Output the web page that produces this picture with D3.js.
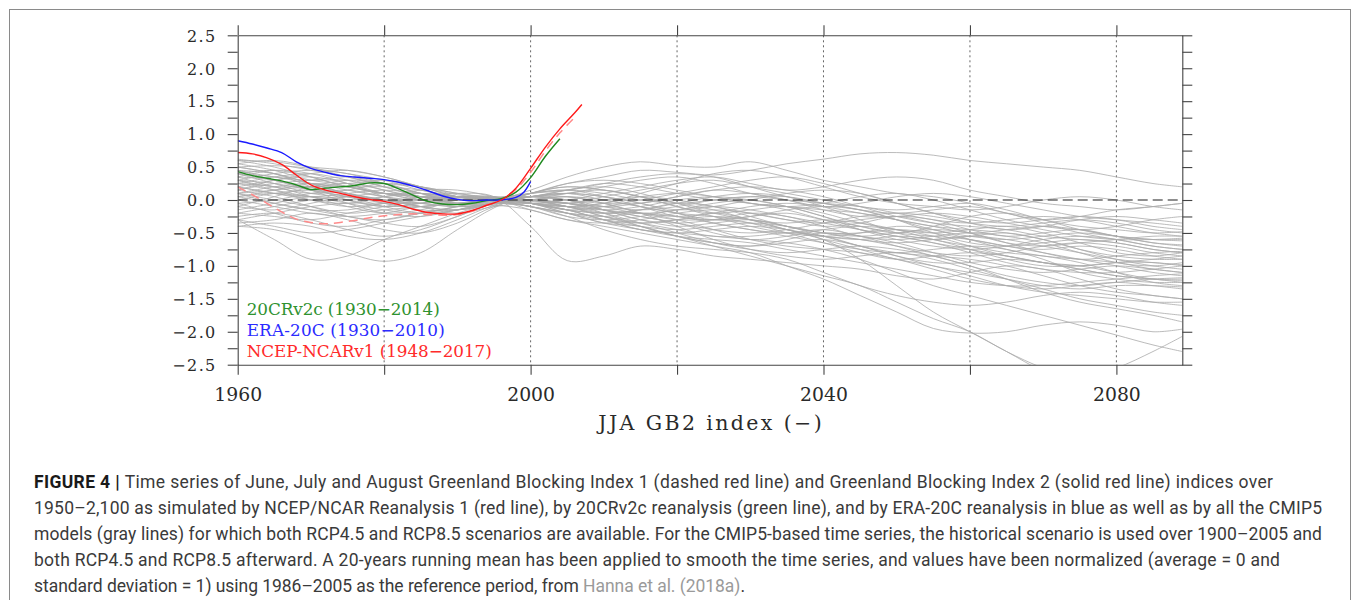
<!DOCTYPE html>
<html>
<head>
<meta charset="utf-8">
<script src="https://cdn.jsdelivr.net/npm/d3@7"></script>
<style>
  body { margin: 0; background: #fff; }
  svg { display: block; }
</style>
</head>
<body>
<div id="chart"></div>
<script>
// ---------------- data ----------------
// knot years for the CMIP5 running-mean curves
var cmipYears = [1960, 1965, 1970, 1975, 1980, 1985, 1990, 1995, 2000, 2005, 2010, 2015, 2020, 2025,
  2030, 2035, 2040, 2045, 2050, 2055, 2060, 2065, 2070, 2075, 2080, 2085, 2089];

// one row per CMIP5 model (gray lines)
var cmipModels = [
  [0.62,0.55,0.45,0.35,0.20,0.05,-0.05,0.02,0.10,0.25,0.35,0.45,0.42,0.38,0.45,0.55,0.62,0.70,0.72,0.68,0.60,0.55,0.50,0.45,0.35,0.25,0.20],
  [0.50,0.52,0.48,0.40,0.30,0.15,0.05,0.00,0.15,0.35,0.50,0.58,0.52,0.50,0.58,0.45,0.30,0.20,0.10,0.05,-0.05,-0.20,-0.30,-0.25,-0.15,-0.10,-0.05],
  [0.30,0.25,0.15,0.05,-0.10,-0.20,-0.15,0.00,-0.05,-0.20,-0.30,-0.35,-0.30,-0.20,-0.30,-0.45,-0.60,-0.90,-1.30,-1.70,-2.00,-2.30,-2.60,-2.80,-2.90,-2.90,-2.90],
  [0.10,0.00,-0.10,-0.20,-0.15,-0.10,-0.05,0.00,-0.15,-0.30,-0.40,-0.50,-0.60,-0.70,-0.80,-1.00,-1.20,-1.45,-1.70,-1.95,-2.02,-2.00,-1.90,-1.85,-1.90,-2.00,-1.96],
  [0.40,0.45,0.35,0.20,0.10,0.05,0.02,-0.02,-0.10,-0.20,-0.35,-0.40,-0.55,-0.70,-0.85,-1.00,-1.15,-1.30,-1.55,-1.80,-2.00,-2.30,-2.55,-2.70,-2.55,-2.30,-2.07],
  [-0.20,-0.25,-0.30,-0.20,-0.10,0.00,0.05,0.02,-0.05,-0.15,-0.30,-0.45,-0.50,-0.55,-0.60,-0.65,-0.75,-0.90,-1.10,-1.30,-1.45,-1.60,-1.75,-1.90,-2.05,-2.20,-2.30],
  [-0.30,-0.60,-0.90,-0.85,-0.60,-0.40,-0.20,-0.05,0.05,0.10,0.00,-0.10,-0.20,-0.30,-0.25,-0.20,-0.30,-0.40,-0.50,-0.55,-0.60,-0.70,-0.80,-0.90,-1.00,-1.10,-1.15],
  [-0.40,-0.45,-0.60,-0.80,-0.93,-0.80,-0.45,-0.12,0.10,0.20,0.15,0.05,-0.05,-0.15,-0.30,-0.45,-0.55,-0.60,-0.70,-0.80,-0.85,-0.80,-0.70,-0.65,-0.70,-0.80,-0.85],
  [0.20,0.10,0.00,-0.10,-0.05,0.05,0.10,0.05,-0.40,-0.92,-0.85,-0.70,-0.75,-0.85,-0.90,-0.95,-1.00,-1.05,-1.15,-1.20,-1.10,-1.00,-1.05,-1.20,-1.35,-1.45,-1.50],
  [0.55,0.45,0.30,0.25,0.30,0.20,0.05,0.00,0.05,0.10,0.20,0.30,0.35,0.25,0.10,0.00,-0.10,-0.05,0.05,0.10,0.05,-0.05,-0.15,-0.25,-0.30,-0.35,-0.40],
  [0.45,0.40,0.25,0.10,0.00,-0.05,-0.10,-0.05,0.00,-0.10,-0.20,-0.15,-0.05,0.05,0.10,0.05,-0.10,-0.30,-0.50,-0.60,-0.55,-0.50,-0.60,-0.75,-0.90,-1.00,-1.05],
  [0.35,0.20,0.10,0.15,0.25,0.20,0.10,0.03,-0.05,-0.15,-0.10,0.00,0.10,0.20,0.30,0.35,0.25,0.10,-0.05,-0.20,-0.35,-0.45,-0.40,-0.30,-0.25,-0.30,-0.35],
  [0.00,0.10,0.15,0.10,0.00,-0.10,-0.15,-0.05,0.10,0.20,0.15,0.05,-0.10,-0.25,-0.40,-0.50,-0.55,-0.50,-0.40,-0.45,-0.60,-0.75,-0.85,-0.90,-0.95,-1.05,-1.10],
  [-0.35,-0.30,-0.20,-0.30,-0.45,-0.50,-0.35,-0.10,0.05,0.00,-0.15,-0.30,-0.40,-0.35,-0.30,-0.40,-0.55,-0.70,-0.80,-0.85,-0.90,-1.00,-1.15,-1.30,-1.40,-1.45,-1.50],
  [0.25,0.35,0.40,0.30,0.15,0.05,0.00,0.00,-0.05,-0.10,-0.05,0.10,0.25,0.40,0.45,0.35,0.20,0.05,-0.05,-0.10,-0.15,-0.10,0.00,0.05,0.00,-0.10,-0.15],
  [0.15,0.05,-0.10,-0.25,-0.30,-0.20,-0.10,-0.03,-0.10,-0.25,-0.45,-0.60,-0.70,-0.75,-0.80,-0.90,-1.10,-1.30,-1.45,-1.55,-1.60,-1.55,-1.45,-1.40,-1.45,-1.55,-1.60],
  [0.05,-0.05,-0.15,-0.25,-0.35,-0.40,-0.25,-0.05,0.00,-0.05,-0.15,-0.25,-0.35,-0.50,-0.60,-0.55,-0.45,-0.40,-0.45,-0.55,-0.70,-0.85,-0.95,-1.00,-0.95,-0.90,-0.85],
  [0.40,0.30,0.20,0.25,0.15,0.00,-0.10,-0.08,-0.15,-0.30,-0.35,-0.30,-0.20,-0.15,-0.20,-0.30,-0.40,-0.35,-0.25,-0.30,-0.45,-0.55,-0.50,-0.45,-0.55,-0.65,-0.70],
  [-0.10,-0.15,-0.05,0.05,0.10,0.05,0.00,0.02,0.05,0.00,-0.10,-0.20,-0.15,-0.05,0.00,-0.10,-0.25,-0.40,-0.50,-0.40,-0.25,-0.20,-0.30,-0.45,-0.55,-0.60,-0.62],
  [0.60,0.50,0.35,0.20,0.10,0.10,0.05,0.02,0.05,0.15,0.25,0.20,0.10,0.00,-0.05,-0.15,-0.30,-0.45,-0.55,-0.65,-0.75,-0.85,-0.95,-1.05,-1.15,-1.20,-1.25],
  [0.20,0.30,0.35,0.25,0.05,-0.10,-0.20,-0.10,-0.05,-0.10,-0.20,-0.35,-0.50,-0.65,-0.75,-0.80,-0.75,-0.70,-0.75,-0.85,-1.00,-1.15,-1.25,-1.30,-1.25,-1.20,-1.18],
  [-0.25,-0.20,-0.30,-0.45,-0.55,-0.45,-0.25,-0.05,0.00,-0.05,0.00,0.05,0.00,-0.10,-0.20,-0.30,-0.35,-0.30,-0.25,-0.35,-0.50,-0.65,-0.70,-0.65,-0.60,-0.55,-0.55],
  [0.10,0.20,0.25,0.15,0.05,0.00,0.05,0.00,-0.10,-0.20,-0.25,-0.20,-0.25,-0.35,-0.45,-0.50,-0.45,-0.55,-0.70,-0.85,-1.00,-1.20,-1.40,-1.55,-1.65,-1.75,-1.85],
  [0.50,0.40,0.20,0.00,-0.10,-0.05,0.05,0.05,0.00,-0.05,0.05,0.15,0.25,0.30,0.20,0.10,0.00,-0.10,-0.15,-0.10,-0.05,-0.15,-0.30,-0.40,-0.45,-0.50,-0.48],
  [0.30,0.15,0.00,-0.05,0.05,0.15,0.15,0.05,-0.05,-0.15,-0.30,-0.40,-0.45,-0.40,-0.35,-0.40,-0.50,-0.60,-0.65,-0.60,-0.55,-0.60,-0.70,-0.80,-0.90,-0.95,-0.98],
  [-0.05,0.00,0.10,0.15,0.05,-0.05,-0.10,-0.05,0.10,0.25,0.30,0.25,0.15,0.05,-0.05,-0.10,-0.05,0.05,0.10,0.00,-0.15,-0.30,-0.40,-0.45,-0.40,-0.30,-0.25],
  [0.35,0.30,0.15,-0.05,-0.20,-0.25,-0.15,-0.05,-0.02,-0.10,-0.25,-0.40,-0.55,-0.65,-0.70,-0.65,-0.60,-0.70,-0.85,-1.00,-1.10,-1.20,-1.30,-1.35,-1.30,-1.30,-1.32],
  [0.15,0.25,0.30,0.35,0.25,0.10,0.00,0.03,0.00,-0.05,-0.10,-0.05,0.05,0.15,0.20,0.15,0.05,-0.10,-0.25,-0.35,-0.40,-0.45,-0.55,-0.60,-0.65,-0.75,-0.80],
  [-0.40,-0.35,-0.40,-0.55,-0.60,-0.50,-0.30,-0.08,0.05,0.10,0.05,-0.05,-0.20,-0.35,-0.45,-0.55,-0.65,-0.75,-0.80,-0.75,-0.70,-0.75,-0.90,-1.10,-1.20,-1.25,-1.25],
  [0.05,0.10,0.05,-0.05,-0.15,-0.20,-0.10,0.02,0.10,0.15,0.05,-0.10,-0.25,-0.30,-0.25,-0.15,-0.10,-0.15,-0.30,-0.50,-0.65,-0.70,-0.65,-0.60,-0.65,-0.75,-0.80],
  [0.45,0.35,0.30,0.30,0.20,0.05,-0.05,-0.05,-0.05,-0.10,-0.15,-0.25,-0.35,-0.45,-0.50,-0.45,-0.35,-0.25,-0.20,-0.25,-0.35,-0.40,-0.35,-0.30,-0.35,-0.45,-0.50],
  [0.25,0.20,0.05,-0.10,-0.20,-0.15,0.00,0.04,0.00,-0.10,-0.15,-0.10,0.00,0.05,0.00,-0.10,-0.25,-0.45,-0.60,-0.70,-0.75,-0.70,-0.60,-0.55,-0.60,-0.70,-0.75],
  [-0.15,-0.05,0.05,0.00,-0.10,-0.05,0.05,0.05,-0.05,-0.20,-0.35,-0.45,-0.55,-0.60,-0.65,-0.75,-0.85,-0.95,-1.05,-1.15,-1.25,-1.30,-1.30,-1.25,-1.20,-1.15,-1.12],
  [0.55,0.60,0.50,0.35,0.25,0.20,0.10,0.02,-0.05,-0.10,-0.05,0.05,0.10,0.05,-0.05,-0.10,-0.15,-0.20,-0.30,-0.40,-0.50,-0.45,-0.40,-0.45,-0.55,-0.65,-0.68],
  [0.20,0.10,0.05,0.10,0.15,0.10,0.05,0.00,-0.05,0.00,0.10,0.20,0.30,0.35,0.25,0.15,0.20,0.30,0.35,0.30,0.15,0.05,-0.05,-0.10,-0.15,-0.10,-0.05],
  [0.00,-0.10,-0.20,-0.25,-0.20,-0.10,-0.05,-0.03,0.00,0.05,0.00,-0.10,-0.20,-0.25,-0.35,-0.50,-0.65,-0.80,-0.90,-0.85,-0.80,-0.85,-0.95,-1.00,-1.10,-1.20,-1.22],
  [0.40,0.25,0.10,0.05,0.00,0.00,0.00,0.01,0.05,0.00,-0.15,-0.30,-0.35,-0.30,-0.20,-0.25,-0.40,-0.55,-0.60,-0.55,-0.50,-0.55,-0.65,-0.80,-0.95,-1.00,-0.95],
  [-0.30,-0.40,-0.50,-0.45,-0.35,-0.25,-0.15,-0.04,0.05,0.05,-0.05,-0.20,-0.40,-0.60,-0.75,-0.85,-0.90,-0.85,-0.80,-0.90,-1.05,-1.20,-1.35,-1.50,-1.60,-1.70,-1.75],
  [0.10,0.15,0.20,0.20,0.10,0.00,-0.05,0.00,0.00,-0.05,-0.10,-0.15,-0.10,0.00,0.05,0.00,-0.05,-0.10,-0.20,-0.30,-0.35,-0.30,-0.25,-0.30,-0.40,-0.50,-0.55],
  [0.30,0.40,0.45,0.40,0.25,0.10,0.05,0.00,-0.10,-0.25,-0.30,-0.25,-0.15,-0.10,-0.15,-0.25,-0.35,-0.45,-0.55,-0.65,-0.80,-0.95,-1.05,-1.10,-1.10,-1.05,-1.00],
  [-0.20,-0.10,0.00,0.05,0.00,-0.10,-0.15,-0.05,0.10,0.15,0.10,0.00,-0.05,0.00,0.05,0.05,-0.05,-0.15,-0.20,-0.15,-0.10,-0.20,-0.35,-0.50,-0.60,-0.70,-0.75],
  [0.50,0.40,0.25,0.10,0.00,-0.05,0.00,0.03,0.00,-0.05,-0.15,-0.20,-0.25,-0.20,-0.10,-0.05,-0.10,-0.20,-0.30,-0.40,-0.45,-0.50,-0.60,-0.75,-0.85,-0.90,-0.90],
  [0.60,0.58,0.50,0.45,0.35,0.20,0.08,0.02,-0.05,-0.15,-0.20,-0.15,-0.05,-0.10,-0.25,-0.40,-0.50,-0.55,-0.50,-0.45,-0.50,-0.65,-0.80,-0.90,-0.85,-0.80,-0.78],
  [0.15,0.30,0.40,0.45,0.35,0.20,0.05,-0.02,0.05,0.15,0.20,0.10,-0.05,-0.20,-0.30,-0.35,-0.30,-0.35,-0.45,-0.60,-0.70,-0.80,-0.85,-0.95,-1.10,-1.25,-1.30],
  [-0.05,-0.20,-0.35,-0.40,-0.30,-0.20,-0.10,0.00,0.00,-0.05,-0.20,-0.40,-0.55,-0.65,-0.70,-0.60,-0.50,-0.55,-0.65,-0.80,-0.95,-1.05,-1.10,-1.05,-1.00,-1.05,-1.10],
  [0.35,0.45,0.40,0.25,0.10,0.00,0.00,0.03,0.10,0.15,0.25,0.35,0.40,0.35,0.20,0.05,-0.05,-0.15,-0.30,-0.45,-0.55,-0.60,-0.55,-0.50,-0.55,-0.60,-0.60],
  [0.25,0.15,0.05,0.00,0.05,0.10,0.05,-0.02,-0.10,-0.20,-0.25,-0.35,-0.45,-0.55,-0.55,-0.50,-0.55,-0.70,-0.85,-0.95,-0.95,-0.90,-0.95,-1.05,-1.15,-1.20,-1.20],
  [-0.10,0.05,0.20,0.30,0.25,0.10,-0.05,-0.06,0.00,0.10,0.15,0.05,-0.10,-0.20,-0.15,-0.10,-0.20,-0.35,-0.45,-0.50,-0.45,-0.40,-0.50,-0.65,-0.80,-0.85,-0.80],
  [0.45,0.30,0.15,0.05,-0.05,-0.15,-0.15,-0.06,0.00,0.05,-0.05,-0.20,-0.30,-0.30,-0.35,-0.45,-0.60,-0.75,-0.90,-1.00,-1.15,-1.30,-1.40,-1.45,-1.50,-1.55,-1.55],
  [0.05,0.15,0.25,0.20,0.10,0.05,0.05,0.04,0.05,0.00,-0.05,-0.05,0.05,0.15,0.10,0.00,-0.15,-0.25,-0.25,-0.20,-0.25,-0.35,-0.45,-0.55,-0.60,-0.60,-0.58],
  [0.30,0.20,0.20,0.10,-0.05,-0.10,-0.05,0.00,-0.05,-0.15,-0.30,-0.45,-0.50,-0.45,-0.40,-0.45,-0.55,-0.60,-0.55,-0.60,-0.75,-0.90,-1.00,-1.00,-0.95,-0.95,-1.00],
  [-0.30,-0.20,-0.10,-0.05,-0.05,-0.05,0.00,0.02,0.00,-0.10,-0.25,-0.35,-0.30,-0.25,-0.30,-0.40,-0.50,-0.50,-0.45,-0.50,-0.60,-0.70,-0.75,-0.70,-0.75,-0.85,-0.90],
  [0.40,0.35,0.25,0.20,0.20,0.15,0.05,0.00,0.05,0.10,0.05,-0.05,-0.15,-0.10,0.00,0.10,0.15,0.10,-0.05,-0.20,-0.30,-0.35,-0.30,-0.25,-0.30,-0.40,-0.45],
  [0.10,-0.05,-0.15,-0.15,-0.05,0.05,0.05,0.02,-0.05,-0.15,-0.20,-0.20,-0.30,-0.45,-0.60,-0.70,-0.75,-0.80,-0.90,-1.05,-1.20,-1.30,-1.35,-1.30,-1.25,-1.30,-1.35]
];

// reanalyses (20-yr running means)
var ncepYears = [1960, 1962, 1964, 1966, 1968, 1970, 1972, 1974, 1976, 1978, 1980, 1982, 1984,
  1986, 1988, 1990, 1992, 1994, 1996, 1998, 2000, 2002, 2004, 2006, 2007];
var ncepGBI2 = [0.72, 0.70, 0.64, 0.54, 0.38, 0.23, 0.15, 0.10, 0.05, 0.01, -0.02, -0.07, -0.14,
  -0.19, -0.21, -0.21, -0.16, -0.08, 0.00, 0.18, 0.48, 0.80, 1.08, 1.32, 1.45];

var gbi1Years = [1960, 1962, 1964, 1966, 1968, 1970, 1972, 1974, 1976, 1978, 1980, 1982, 1984,
  1986, 1988, 1990, 1992, 1994, 1996, 1998, 2000, 2002, 2004, 2006];
var ncepGBI1 = [0.20, 0.08, -0.05, -0.18, -0.29, -0.34, -0.36, -0.34, -0.31, -0.27, -0.24, -0.22, -0.21,
  -0.22, -0.23, -0.22, -0.17, -0.08, 0.01, 0.16, 0.42, 0.74, 1.02, 1.25];

var cr20Years = [1960, 1962, 1964, 1966, 1968, 1970, 1972, 1974, 1976, 1978, 1980, 1982, 1984,
  1986, 1988, 1990, 1992, 1994, 1996, 1998, 2000, 2002, 2004];
var cr20Values = [0.43, 0.37, 0.33, 0.29, 0.23, 0.16, 0.18, 0.20, 0.22, 0.26, 0.25, 0.17, 0.07,
  -0.02, -0.06, -0.07, -0.05, -0.01, 0.02, 0.12, 0.34, 0.66, 0.93];

var eraYears = [1960, 1962, 1964, 1966, 1968, 1970, 1972, 1974, 1976, 1978, 1980, 1982, 1984,
  1986, 1988, 1990, 1992, 1994, 1996, 1998, 1999, 2000];
var eraValues = [0.90, 0.85, 0.79, 0.72, 0.58, 0.48, 0.42, 0.37, 0.35, 0.33, 0.31, 0.27, 0.21,
  0.14, 0.06, 0.01, -0.01, 0.00, 0.00, 0.04, 0.11, 0.28];

// axes
var yMajorTicks = [-2.5, -2, -1.5, -1, -0.5, 0, 0.5, 1, 1.5, 2, 2.5];
var yMinorTicks = [-2.25, -1.75, -1.25, -0.75, -0.25, 0.25, 0.75, 1.25, 1.75, 2.25];
var xTicks = [1960, 1980, 2000, 2020, 2040, 2060, 2080];
var xLabelled = [1960, 2000, 2040, 2080];

var legendNames = ["20CRv2c (1930\u22122014)", "ERA-20C (1930\u22122010)", "NCEP-NCARv1 (1948\u22122017)"];
var legendColors = ["#2f922f", "#2b2bff", "#ff2b2b"];

// ---------------- layout ----------------
var svgWidth = 1355;
var svgHeight = 600;

var margin = {
  top: 35.3,
  right: 172.7,
  bottom: 235.3,
  left: 237.7
};

var width = svgWidth - margin.left - margin.right;
var height = svgHeight - margin.top - margin.bottom;

var serif = "'DejaVu Serif', 'Liberation Serif', serif";
var sans = "Roboto, 'Liberation Sans', sans-serif";

var svg = d3.select("#chart")
  .append("svg")
  .attr("width", svgWidth)
  .attr("height", svgHeight);

// light frame around the whole figure (bottom edge runs off the page)
svg.append("rect")
  .attr("x", 9.5)
  .attr("y", 9.5)
  .attr("width", 1341)
  .attr("height", 640)
  .attr("fill", "none")
  .attr("stroke", "#8a8a8a")
  .attr("stroke-width", 1);

var chartGroup = svg.append("g")
  .attr("transform", `translate(${margin.left}, ${margin.top})`);

var xScale = d3.scaleLinear().domain([1960, 2089]).range([0, width]);
var yScale = d3.scaleLinear().domain([-2.5, 2.5]).range([height, 0]);

chartGroup.append("clipPath")
  .attr("id", "plot-clip")
  .append("rect")
  .attr("width", width)
  .attr("height", height);

// dotted vertical grid lines
chartGroup.selectAll(".grid")
  .data(xTicks.slice(1))
  .enter()
  .append("line")
  .attr("class", "grid")
  .attr("x1", d => xScale(d))
  .attr("x2", d => xScale(d))
  .attr("y1", 0)
  .attr("y2", height)
  .attr("stroke", "#555")
  .attr("stroke-width", 0.9)
  .attr("stroke-dasharray", "2,3");

var plotArea = chartGroup.append("g").attr("clip-path", "url(#plot-clip)");

// CMIP5 models
var cmipLine = d3.line()
  .x((d, i) => xScale(cmipYears[i]))
  .y(d => yScale(d))
  .curve(d3.curveCatmullRom.alpha(0.5));

plotArea.selectAll(".model")
  .data(cmipModels)
  .enter()
  .append("path")
  .attr("class", "model")
  .attr("d", cmipLine)
  .attr("fill", "none")
  .attr("stroke", "#ababab")
  .attr("stroke-opacity", 0.85)
  .attr("stroke-width", 0.95);

// zero reference line
plotArea.append("line")
  .attr("x1", 0)
  .attr("x2", width)
  .attr("y1", yScale(0))
  .attr("y2", yScale(0))
  .attr("stroke", "#1e1e1e")
  .attr("stroke-width", 1.2)
  .attr("stroke-dasharray", "10,5");

function seriesLine(years) {
  return d3.line()
    .x((d, i) => xScale(years[i]))
    .y(d => yScale(d))
    .curve(d3.curveCatmullRom.alpha(0.5));
}

// GBI1 (dashed, pale red)
plotArea.append("path")
  .attr("d", seriesLine(gbi1Years)(ncepGBI1))
  .attr("fill", "none")
  .attr("stroke", "#ff8a8a")
  .attr("stroke-width", 1.5)
  .attr("stroke-dasharray", "9,6");

plotArea.append("path")
  .attr("d", seriesLine(cr20Years)(cr20Values))
  .attr("fill", "none")
  .attr("stroke", "#1f8a1f")
  .attr("stroke-width", 1.4);

plotArea.append("path")
  .attr("d", seriesLine(eraYears)(eraValues))
  .attr("fill", "none")
  .attr("stroke", "#1a1aff")
  .attr("stroke-width", 1.4);

plotArea.append("path")
  .attr("d", seriesLine(ncepYears)(ncepGBI2))
  .attr("fill", "none")
  .attr("stroke", "#ff1a1a")
  .attr("stroke-width", 1.4);

// ---------------- axes ----------------
var yTicksAll = yMajorTicks.concat(yMinorTicks);
var fmtY = d => (d < 0 ? "\u2212" : "") + Math.abs(d).toFixed(1);

var leftAxis = d3.axisLeft(yScale)
  .tickValues(yTicksAll)
  .tickSize(10)
  .tickSizeOuter(0)
  .tickPadding(11)
  .tickFormat(d => yMajorTicks.indexOf(d) >= 0 ? fmtY(d) : "");

var rightAxis = d3.axisRight(yScale)
  .tickValues(yTicksAll)
  .tickSize(10)
  .tickSizeOuter(0)
  .tickFormat("");

var bottomAxis = d3.axisBottom(xScale)
  .tickValues(xTicks)
  .tickSize(10)
  .tickSizeOuter(0)
  .tickPadding(13)
  .tickFormat(d => xLabelled.indexOf(d) >= 0 ? d : "");

var topAxis = d3.axisTop(xScale)
  .tickValues(xTicks)
  .tickSize(10)
  .tickSizeOuter(0)
  .tickFormat("");

var yAxisL = chartGroup.append("g").call(leftAxis);
var yAxisR = chartGroup.append("g").attr("transform", `translate(${width}, 0)`).call(rightAxis);
var xAxisB = chartGroup.append("g").attr("transform", `translate(0, ${height})`).call(bottomAxis);
var xAxisT = chartGroup.append("g").call(topAxis);

chartGroup.selectAll(".domain, .tick line")
  .attr("stroke", "#444")
  .attr("stroke-width", 1.1);

yAxisL.selectAll("text")
  .style("font-family", serif)
  .style("font-size", "16px")
  .style("letter-spacing", "1.4px")
  .attr("fill", "#2a2a2a")
  .attr("dy", "0.36em");

xAxisB.selectAll("text")
  .style("font-family", serif)
  .style("font-size", "18.8px")
  .attr("fill", "#2a2a2a")
  .attr("dy", "0.71em");

// stretch text to the width it has in the figure
function fitWidth(sel, target) {
  var node = sel.node();
  var n = node.getNumberOfChars();
  var w = node.getComputedTextLength();
  sel.style("letter-spacing", ((target - w) / Math.max(n - 1, 1)) + "px");
}

// axis title
var title = svg.append("text")
  .attr("x", 598.3)
  .attr("y", 430)
  .style("font-family", serif)
  .style("font-size", "20.5px")
  .attr("fill", "#2a2a2a")
  .text("JJA GB2 index (\u2212)");
fitWidth(title, 223.4);

// legend text inside the plot
var legendY = [315, 336, 357];
var legendW = [193, 198, 245];
legendNames.forEach(function(name, i) {
  var t = svg.append("text")
    .attr("x", 246.7)
    .attr("y", legendY[i])
    .style("font-family", serif)
    .style("font-size", "16.8px")
    .attr("fill", legendColors[i])
    .text(name);
  fitWidth(t, legendW[i]);
});

// ---------------- caption ----------------
var captionLines = [
  "Time series of June, July and August Greenland Blocking Index 1 (dashed red line) and Greenland Blocking Index 2 (solid red line) indices over",
  "1950\u20132,100 as simulated by NCEP/NCAR Reanalysis 1 (red line), by 20CRv2c reanalysis (green line), and by ERA-20C reanalysis in blue as well as by all the CMIP5",
  "models (gray lines) for which both RCP4.5 and RCP8.5 scenarios are available. For the CMIP5-based time series, the historical scenario is used over 1900\u20132005 and",
  "both RCP4.5 and RCP8.5 afterward. A 20-years running mean has been applied to smooth the time series, and values have been normalized (average = 0 and",
  "standard deviation = 1) using 1986\u20132005 as the reference period, from "
];
var captionRight = [1273, 1322, 1322, 1280, 745];
var captionBase = [488.3, 514.3, 540.3, 566.3, 592.3];

captionLines.forEach(function(line, i) {
  var t = svg.append("text")
    .attr("x", 34)
    .attr("y", captionBase[i])
    .style("font-family", sans)
    .style("font-size", "17.5px")
    .attr("fill", "#3a3a3a");
  if (i === 0) {
    t.append("tspan")
      .style("font-weight", "bold")
      .attr("fill", "#1a1a1a")
      .text("FIGURE 4 | ");
  }
  t.append("tspan").text(line);
  if (i === 4) {
    t.append("tspan").attr("fill", "#9a9a9a").text("Hanna et al. (2018a)");
    t.append("tspan").text(".");
  }
  fitWidth(t, captionRight[i] - 34);
});
</script>
</body>
</html>
